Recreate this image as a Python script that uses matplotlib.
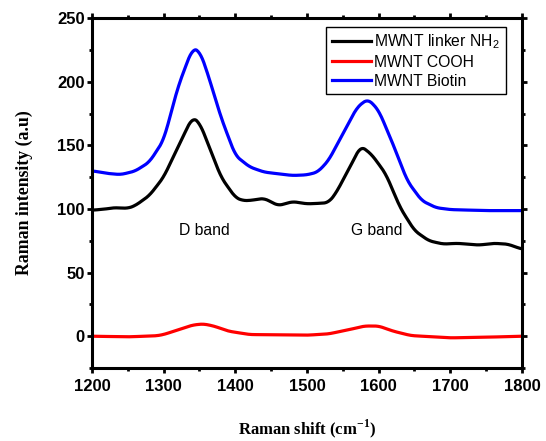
import numpy as np
import matplotlib
matplotlib.use("Agg")
import matplotlib.pyplot as plt
from matplotlib.ticker import MultipleLocator

# Raman shift (cm-1) and intensities
shift_nh2 = [1200, 1220, 1230, 1250, 1260, 1280, 1300, 1320, 1340, 1350, 1360, 1380,
             1400, 1410, 1420, 1440, 1460, 1480, 1500, 1520, 1530, 1540, 1560, 1575,
             1590, 1610, 1630, 1650, 1670, 1690, 1710, 1740, 1760, 1780, 1800]
nh2 = [99, 100, 101, 100.5, 102.5, 110.5, 125, 148.7, 172, 168, 154, 125,
       109, 106.6, 106.6, 108.4, 102.6, 105.8, 104, 104.5, 105, 112, 133, 149.5,
       143, 127.6, 101, 83, 75, 72.4, 73, 71.6, 73, 72.4, 68.4]

shift_biotin = [1200, 1220, 1240, 1260, 1280, 1300, 1320, 1340, 1350, 1360, 1380, 1400,
                1420, 1440, 1460, 1480, 1500, 1515, 1530, 1550, 1570, 1585, 1600, 1620,
                1640, 1660, 1680, 1700, 1750, 1800]
biotin = [130, 128, 127, 129.7, 136.8, 154, 196, 226, 224.5, 209, 172, 142,
          133, 129, 127.6, 126.3, 126.8, 129, 138, 159, 180, 186.5, 177.6, 151,
          122, 106.6, 101, 99.5, 98.7, 98.7]

shift_cooh = [1200, 1250, 1290, 1300, 1320, 1340, 1355, 1370, 1390, 1420, 1500, 1530,
              1560, 1580, 1600, 1620, 1645, 1700, 1750, 1800]
cooh = [0, -0.5, 0.3, 1.3, 5, 8.7, 9.7, 8, 4, 1.3, 0.8, 1.8,
        5.3, 8, 8, 4, 0.5, -1.3, -0.8, 0]

labels = ["MWNT linker NH$_2$", "MWNT COOH", "MWNT Biotin"]

plt.rcParams["mathtext.fontset"] = "custom"
plt.rcParams["mathtext.rm"] = "Liberation Sans"
plt.rcParams["mathtext.bf"] = "Liberation Serif:bold"


def smooth(x, y):
    xs = np.arange(x[0], x[-1] + 1, 1.0)
    ys = np.interp(xs, x, y)
    k = np.ones(13) / 13
    ys = np.convolve(np.pad(ys, 6, mode="edge"), k, mode="valid")
    return xs, ys


fig = plt.figure(figsize=(5.46, 4.41), dpi=100)
ax = fig.add_axes([0.1685, 0.1655, 0.7875, 0.7935])

for x, y, c, lab in [(shift_nh2, nh2, "black", labels[0]),
                     (shift_cooh, cooh, "#ff0000", labels[1]),
                     (shift_biotin, biotin, "#0000ff", labels[2])]:
    xs, ys = smooth(x, y)
    ax.plot(xs, ys, color=c, lw=2.3, label=lab)

ax.set_xlim(1200, 1800)
ax.set_ylim(-25, 250)
ax.xaxis.set_major_locator(MultipleLocator(100))
ax.xaxis.set_minor_locator(MultipleLocator(50))
ax.yaxis.set_major_locator(MultipleLocator(50))
ax.yaxis.set_minor_locator(MultipleLocator(25))
ax.tick_params(which="both", direction="out", top=True, right=True, width=2)
ax.tick_params(which="major", length=3.8)
ax.tick_params(which="minor", length=2.5)
for s in ax.spines.values():
    s.set_linewidth(2.2)

for lbl in ax.get_xticklabels() + ax.get_yticklabels():
    lbl.set_fontfamily("Liberation Sans")
    lbl.set_fontweight("bold")
    lbl.set_fontsize(12)
ax.tick_params(axis="x", pad=4)
ax.tick_params(axis="y", pad=1.5)

ax.set_xlabel(r"Raman shift (cm$^{\mathbf{-1}}$)", family="Liberation Serif", weight="bold",
              fontsize=12, labelpad=17)
ax.set_ylabel("Raman intensity (a.u)", family="Liberation Serif", weight="bold",
              fontsize=12.8, labelpad=17)

ax.text(1357, 83, "D band", family="Liberation Sans", fontsize=11.3, ha="center", va="center")
ax.text(1597, 83, "G band", family="Liberation Sans", fontsize=11.3, ha="center", va="center")

leg = ax.legend(loc="upper right", bbox_to_anchor=(0.962, 0.975), fancybox=False,
                edgecolor="black", framealpha=1, handlelength=2.5, handletextpad=0.2,
                labelspacing=0.25, borderpad=0.35, borderaxespad=0,
                prop={"family": "Liberation Sans", "size": 11.3})
leg.get_frame().set_linewidth(1.0)

fig.savefig("out.png", dpi=100)
